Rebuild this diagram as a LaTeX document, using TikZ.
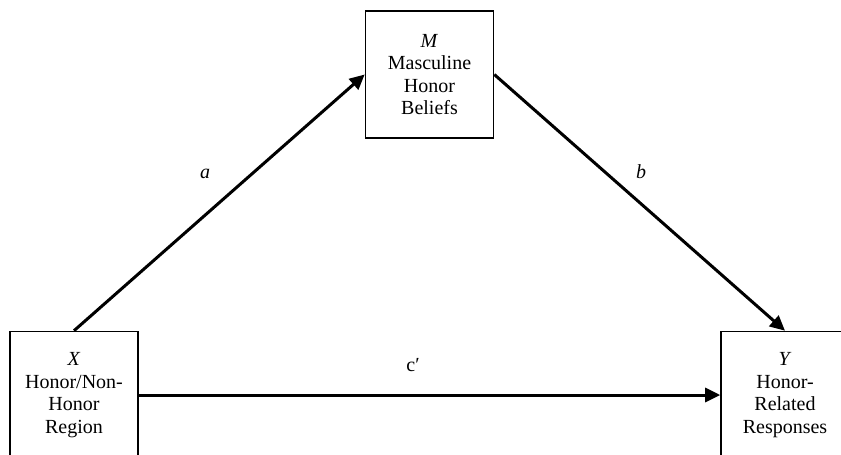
\documentclass[tikz,border=0pt]{standalone}
\usepackage{fontspec}
\setmainfont{Liberation Serif}
\usetikzlibrary{arrows.meta}
\begin{document}
\begin{tikzpicture}[x=1pt,y=-1pt,
  varbox/.style={draw=black,line width=1.6pt,minimum width=128pt,minimum height=127pt,
    align=center,inner sep=0pt,font=\fontsize{20}{22.5}\selectfont},
  path/.style={line width=3pt,-{Triangle[length=15pt,width=14pt]}},
  lbl/.style={font=\fontsize{20}{24}\selectfont}]
\useasboundingbox (0,0) rectangle (841,455);
\clip (0,0) rectangle (841,455);
\fill[white] (0,0) rectangle (841,455);
\node[varbox] (M) at (429.5,74.5) {\textit{M}\\Masculine\\Honor\\Beliefs};
\node[varbox] (X) at (74,395) {\textit{X}\\Honor/Non-\\Honor\\Region};
\node[varbox] (Y) at (785,395) {\textit{Y}\\Honor-\\Related\\Responses};
\draw[path] (X.north) -- (M.west);
\draw[path] (M.east) -- (Y.north);
\draw[path] (X.east) -- (Y.west);
\node[lbl] (la) at (205,174) {\textit{a}};
\node[lbl] (lb) at (641,172) {\textit{b}};
\node[lbl] (lc) at (413,365) {c′};
\end{tikzpicture}
\end{document}
